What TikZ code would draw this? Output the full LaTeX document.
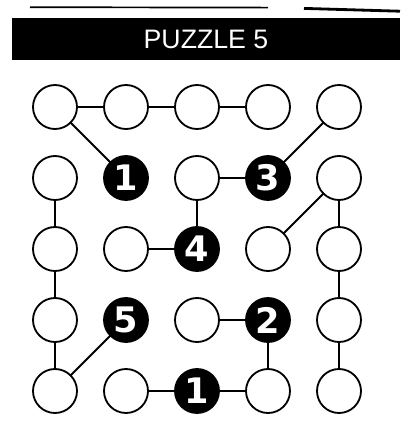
\documentclass[tikz,border=0pt]{standalone}
\usepackage{fontspec}
\setmainfont{Liberation Sans}
\newfontfamily\digitfont{DejaVu Sans}
\usetikzlibrary{positioning}

\begin{document}
\begin{tikzpicture}[
  node distance=0.675cm and 0.675cm,
  spot/.style={circle, draw=black, line width=1.3pt, fill=white,
    minimum size=1.1cm, inner sep=0pt, outer sep=0pt},
  clue/.style={spot, fill=black, text=white,
    font=\digitfont\bfseries\fontsize{25}{25}\selectfont},
  link/.style={line width=1.3pt, black},
  banner/.style={rectangle, fill=black, text=white, minimum width=9.7cm,
    minimum height=1.05cm, font=\fontsize{19}{19}\selectfont}
]
\useasboundingbox (0,0) rectangle (10.175,-10.725);

% scan edge at the top
\draw[line width=1.2pt] (0.75,-0.18) -- (6.7,-0.19);
\draw[line width=2pt] (7.6,-0.21) -- (10.0,-0.28);

% Title bar
\node[banner] (title) at (5.15,-0.975) {PUZZLE 5};

% Row 1
\node[spot] (A1) at (1.375,-2.675) {};
\node[spot, right=of A1] (A2) {};
\node[spot, right=of A2] (A3) {};
\node[spot, right=of A3] (A4) {};
\node[spot, right=of A4] (A5) {};

% Row 2
\node[spot, below=of A1] (B1) {};
\node[clue, right=of B1] (B2) {1};
\node[spot, right=of B2] (B3) {};
\node[clue, right=of B3] (B4) {3};
\node[spot, right=of B4] (B5) {};

% Row 3
\node[spot, below=of B1] (C1) {};
\node[spot, right=of C1] (C2) {};
\node[clue, right=of C2] (C3) {4};
\node[spot, right=of C3] (C4) {};
\node[spot, right=of C4] (C5) {};

% Row 4
\node[spot, below=of C1] (D1) {};
\node[clue, right=of D1] (D2) {5};
\node[spot, right=of D2] (D3) {};
\node[clue, right=of D3] (D4) {2};
\node[spot, right=of D4] (D5) {};

% Row 5
\node[spot, below=of D1] (E1) {};
\node[spot, right=of E1] (E2) {};
\node[clue, right=of E2] (E3) {1};
\node[spot, right=of E3] (E4) {};
\node[spot, right=of E4] (E5) {};

% Links between circles
\foreach \i/\j in {A1/A2, A2/A3, A3/A4, A1/B2, A5/B4, B3/B4, B3/C3,
                   B5/C4, B5/C5, B1/C1, C2/C3, C1/D1, D1/E1, E1/D2,
                   C5/D5, D5/E5, D3/D4, D4/E4, E2/E3, E3/E4} {
  \draw[link] (\i) -- (\j);
}

\end{tikzpicture}
\end{document}
